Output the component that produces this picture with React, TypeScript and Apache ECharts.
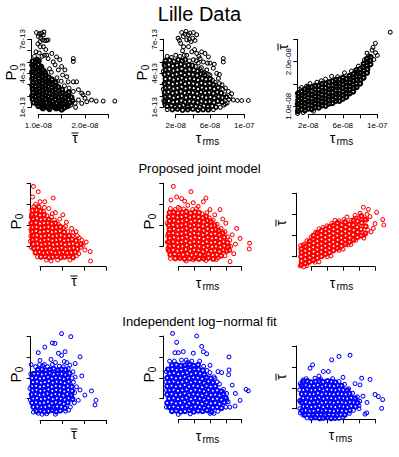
import React, { useEffect, useRef } from "react";
import * as echarts from "echarts";

// Units: tau in ns (1e-9 s), P0 in 1e-13.
// Each panel: a dense "core" cloud and the sparser outer points.
// ---- Row 1: Lille data ----
const lilleTauBarP0Outer: number[][] = [
[9.6,7.6],[10.2,7.5],[10.7,7.55],[11.2,7.65],[10,7.25],[10.5,7.1],[10.9,6.95],[11.4,6.9],[10.4,6.8],[11.1,7.4],[11.8,6.9],[12.1,6.95],[9.9,6.6],[11.1,6.35],[10.4,6.35],[11.6,6.1],[10.8,5.5],[11.3,5.6],[10.2,5.8],[11.8,5.6],[12.9,5.75],[13.9,5.45],[12.1,5.3],[13.2,5.0],[14.6,5.2],[13.6,4.75],[15,4.6],[14.3,4.3],[15.7,4.3],[15.2,3.85],[16.1,3.7],[16.4,3.25],[17.5,3.25],[18.2,3.25],[17.5,5.3],[17.5,5.05],[12.4,4.4],[12.8,4.1],[14,3.6],[14.9,3.3],[15.6,2.9],[16.6,2.7],[17.5,2.4],[18.6,2.55],[19.3,2.25],[19.6,2.1],[20.7,2.25],[20,1.8],[21.4,1.65],[22.4,1.55],[23.9,1.55],[26.4,1.55],[18.6,1.65],[20.4,1.5],[19.3,1.35],[17.9,1.35],[17,1.2],[18,1.0],[9.2,5.5],[9.5,5.9]
];
const lilleTauBarP0Core: number[][] = [
[8.8,5.05],[9.4,4.95],[10.1,5.1],[9.7,5.2],[8.7,4.7],[9.3,4.62],[10,4.78],[10.6,4.58],[8.9,4.41],[9.6,4.33],[10.3,4.47],[11,4.28],[8.7,4.12],[9.3,4.03],[10,4.17],[10.7,3.98],[11.4,4.09],[8.8,3.82],[9.5,3.73],[10.2,3.86],[10.9,3.69],[11.6,3.81],[12.2,3.64],[8.7,3.51],[9.4,3.44],[10.1,3.56],[10.8,3.39],[11.5,3.52],[12.2,3.34],[12.9,3.46],[8.9,3.21],[9.6,3.13],[10.3,3.26],[11,3.08],[11.7,3.22],[12.4,3.14],[13.1,3.04],[13.7,3.19],[8.7,2.92],[9.4,2.84],[10.1,2.96],[10.8,2.79],[11.5,2.91],[12.2,2.83],[12.9,2.74],[13.6,2.89],[14.3,2.78],[8.8,2.61],[9.5,2.53],[10.2,2.66],[10.9,2.49],[11.6,2.62],[12.3,2.54],[13,2.44],[13.7,2.59],[14.4,2.48],[15.1,2.56],[8.9,2.31],[9.6,2.24],[10.3,2.36],[11,2.19],[11.7,2.32],[12.4,2.23],[13.1,2.14],[13.8,2.29],[14.5,2.18],[15.2,2.26],[15.9,2.13],[16.5,2.31],[8.7,2.01],[9.4,1.94],[10.1,2.06],[10.8,1.89],[11.5,2.02],[12.2,1.93],[12.9,1.84],[13.6,1.99],[14.3,1.88],[15,1.96],[15.7,1.83],[16.4,2.01],[17.1,1.88],[8.8,1.71],[9.5,1.64],[10.2,1.76],[10.9,1.59],[11.6,1.72],[12.3,1.63],[13,1.54],[13.7,1.69],[14.4,1.58],[15.1,1.66],[15.8,1.53],[16.5,1.71],[17.3,1.59],[9,1.41],[9.7,1.34],[10.4,1.46],[11.1,1.29],[11.8,1.42],[12.5,1.33],[13.2,1.24],[13.9,1.39],[14.6,1.28],[15.3,1.36],[16,1.23],[16.8,1.41],[10,1.11],[10.7,1.04],[11.4,1.16],[12.1,0.99],[12.8,1.12],[13.5,1.03],[14.2,0.94],[14.9,1.09],[15.6,0.98],[16.3,1.11],[11,0.9],[12.4,0.84],[13.8,0.91],[15,0.8]
];
const lilleTauRmsP0Outer: number[][] = [
[27,7.6],[30.9,7.45],[28.9,7.25],[34.8,7.4],[36.7,7.55],[40.6,7.6],[39.8,7.1],[42.5,6.9],[32.8,6.95],[35.9,7],[24.3,6.9],[25.8,6.65],[44.5,7.4],[37.9,6.8],[22.8,7.1],[29.2,6.35],[35,6.35],[32,7.7],[38.7,5.9],[44.5,5.75],[50.3,5.9],[54.2,5.75],[32.8,5.6],[58.1,5.45],[48.4,5.3],[40.6,5.2],[52.3,5],[60,4.9],[46.4,4.9],[63.9,4.45],[56.2,4.3],[67.8,4],[69.8,3.55],[60,3.85],[75.5,5.3],[75.5,5],[42,6.1],[28,6],[47,5.5],[65,4.8],[71,3.9],[87.2,1.65],[91.9,1.6],[97,1.6],[104.7,1.6],[83.4,1.95],[81.4,2.4],[85.3,2.2],[78,2.7],[74,3],[80,1.4],[76,1.2],[6.5,4.9],[7.5,3],[6.8,2],[7.2,1.3],[50,4.5],[57,4.9],[44,5.1],[53,4.1],
[10,5.5],[15,5.4],[20,5.6],[25,5.5],[30,5.6],[36,5.1],[43,4.6],[48,4.4],[52,4.0],[58,3.9],[63,3.4],[66,3.2],[71,3.1],[75,2.6],[77,2.1],[82,1.7],[78,1.3],[72,1.0],[64,0.8],[10,0.8],[6,1.6],[5.5,2.6],[5.5,4.2]
];
const lilleTauRmsP0Core: number[][] = [
[8,5.1],[13,5.15],[18,5.05],[23,5.2],[27.5,5.1],[31,5.2],[7,4.7],[12,4.76],[16.5,4.64],[21.5,4.71],[26,4.8],[30.5,4.66],[35,4.74],[39.5,4.69],[8,4.3],[12.5,4.36],[17.5,4.24],[22,4.31],[27,4.4],[31.5,4.26],[36,4.34],[41,4.29],[45.5,4.21],[7,3.9],[11.5,3.96],[16.5,3.84],[21,3.91],[26,4],[30.5,3.86],[35.5,3.94],[40,3.89],[45,3.81],[49.5,3.94],[54,3.86],[8,3.5],[13,3.56],[17.5,3.44],[22.5,3.51],[27,3.6],[32,3.46],[36.5,3.54],[41.5,3.49],[46,3.41],[51,3.54],[55.5,3.46],[60,3.51],[7,3.1],[12,3.16],[16.5,3.04],[21.5,3.11],[26,3.2],[31,3.06],[35.5,3.14],[40.5,3.09],[45,3.01],[50,3.14],[54.5,3.06],[59.5,3.11],[64,3.02],[8,2.7],[12.5,2.76],[17.5,2.64],[22,2.71],[27,2.8],[31.5,2.66],[36.5,2.74],[41,2.69],[46,2.61],[50.5,2.74],[55.5,2.66],[60,2.71],[65,2.62],[69.5,2.74],[7,2.3],[11.5,2.36],[16.5,2.24],[21,2.31],[26,2.4],[30.5,2.26],[35.5,2.34],[40,2.29],[45,2.21],[49.5,2.34],[54.5,2.26],[59,2.31],[64,2.22],[68.5,2.34],[73,2.26],[8,1.9],[13,1.96],[17.5,1.84],[22.5,1.91],[27,2],[32,1.86],[36.5,1.94],[41.5,1.89],[46,1.81],[51,1.94],[55.5,1.86],[60.5,1.91],[65,1.82],[70,1.94],[74.5,1.86],[79,1.91],[7.5,1.5],[12,1.56],[17,1.44],[21.5,1.51],[26.5,1.6],[31,1.46],[36,1.54],[40.5,1.49],[45.5,1.41],[50,1.54],[55,1.46],[59.5,1.51],[64.5,1.42],[69,1.54],[74,1.46],[10,1.1],[15,1.16],[19.5,1.04],[24.5,1.11],[29,1.2],[34,1.06],[38.5,1.14],[43.5,1.09],[48,1.01],[53,1.14],[57.5,1.06],[62.5,1.11],[67,1.02],[16,0.8],[22,0.86],[28,0.76],[34,0.81],[40,0.86],[46,0.76],[52,0.81],[58,0.79]
];
const lilleTauRmsTauBarOuter: number[][] = [
[12,14.2],[22,15.1],[30,15.4],[40,16.1],[47,16.7],[62,17.5],[70,17.9],[78,19],[85,20.4],[88.1,21.9],[93.9,22.6],[97.8,24.1],[95,23.2],[98,22],[100,21.4],[115,26.6],[7.5,8.4],[14,8.6],[26,8.9],[10,13.8],[96,20.5],[90,21.3],[18,14.5],[35,15.7],[54,16.6]
];
const lilleTauRmsTauBarCore: number[][] = [
[8,8.9],[8.5,9.7],[7.8,10.5],[8.3,11.3],[8.6,12.1],[8.1,12.9],[12,9.3],[11.6,10.1],[12.3,10.9],[11.8,11.7],[12.2,12.5],[12,13.3],[16,9.1],[16.4,9.9],[15.7,10.7],[16.2,11.5],[15.9,12.3],[16.3,13.1],[16,13.8],[20,9.5],[19.6,10.3],[20.3,11.1],[19.8,11.9],[20.2,12.7],[19.7,13.5],[20.1,14.2],[24,9.4],[24.4,10.2],[23.7,11],[24.2,11.8],[23.9,12.6],[24.3,13.4],[24,14.3],[28,9.8],[27.6,10.6],[28.3,11.4],[27.8,12.2],[28.2,13],[27.7,13.8],[28.1,14.6],[32,9.7],[32.4,10.5],[31.7,11.3],[32.2,12.1],[31.9,12.9],[32.3,13.7],[32,14.6],[36,10.2],[35.6,11],[36.3,11.8],[35.8,12.6],[36.2,13.4],[35.7,14.2],[36.1,15],[40,10.1],[40.4,10.9],[39.7,11.7],[40.2,12.5],[39.9,13.3],[40.3,14.1],[40,15],[44,10.6],[43.6,11.4],[44.3,12.2],[43.8,13],[44.2,13.8],[43.7,14.6],[44.1,15.4],[48,10.7],[48.4,11.5],[47.7,12.3],[48.2,13.1],[47.9,13.9],[48.3,14.7],[48,15.6],[52,11.2],[51.6,12],[52.3,12.8],[51.8,13.6],[52.2,14.4],[51.7,15.2],[52.1,15.9],[56,11.2],[56.4,12],[55.7,12.8],[56.2,13.6],[55.9,14.4],[56.3,15.2],[56,16],[60,11.7],[59.6,12.5],[60.3,13.3],[59.8,14.1],[60.2,14.9],[59.7,15.7],[60.1,16.4],[64,12.1],[64.4,12.9],[63.7,13.7],[64.2,14.5],[63.9,15.3],[64.3,16.1],[68,12.9],[67.6,13.7],[68.3,14.5],[67.8,15.3],[68.2,16.1],[67.7,16.8],[72,13.3],[72.4,14.1],[71.7,14.9],[72.2,15.7],[71.9,16.5],[72.3,17.2],[76,14.3],[75.6,15.1],[76.3,15.9],[75.8,16.7],[76.2,17.5],[75.7,18.1],[80,15.1],[80.4,15.9],[79.7,16.7],[80.2,17.5],[79.9,18.3],[84,16.4],[83.6,17.2],[84.3,18],[83.8,18.8],[84.2,19.5],[88,17.5],[88.4,18.3],[87.7,19.1],[88.2,19.9],[87.9,20.6],[92,19.4],[91.6,20.2],[92.3,21]
];

// ---- Row 2: proposed joint model ----
const jointTauBarP0Core: number[][] = [
[8.3,5.4],[9.2,5.45],[10.1,5.35],[8.2,5.0],[9.1,5.05],[10,4.95],[10.9,5.0],[8.4,4.6],[9.3,4.65],[10.2,4.55],[11.1,4.6],[12,4.55],[8.2,4.2],[9.1,4.25],[10,4.15],[10.9,4.2],[11.8,4.25],[12.7,4.15],[13.5,4.2],[8.3,3.8],[9.2,3.85],[10.1,3.75],[11,3.8],[11.9,3.85],[12.8,3.75],[13.7,3.8],[14.6,3.85],[8.2,3.4],[9.1,3.45],[10,3.35],[10.9,3.4],[11.8,3.45],[12.7,3.35],[13.6,3.4],[14.5,3.45],[15.5,3.35],[8.4,3],[9.3,3.05],[10.2,2.95],[11.1,3],[12,3.05],[12.9,2.95],[13.8,3],[14.7,3.05],[15.6,2.95],[16.6,3],[8.3,2.6],[9.2,2.65],[10.1,2.55],[11,2.6],[11.9,2.65],[12.8,2.55],[13.7,2.6],[14.6,2.65],[15.5,2.55],[16.4,2.6],[17.3,2.65],[18.2,2.55],[8.5,2.2],[9.4,2.25],[10.3,2.15],[11.2,2.2],[12.1,2.25],[13,2.15],[13.9,2.2],[14.8,2.25],[15.7,2.15],[16.6,2.2],[17.5,2.25],[18.4,2.15],[19.3,2.2],[8.6,1.8],[9.5,1.85],[10.4,1.75],[11.3,1.8],[12.2,1.85],[13.1,1.75],[14,1.8],[14.9,1.85],[15.8,1.75],[16.7,1.8],[17.6,1.85],[18.5,1.75],[9,1.4],[9.9,1.45],[10.8,1.35],[11.7,1.4],[12.6,1.45],[13.5,1.35],[14.4,1.4],[15.3,1.45],[16.2,1.35],[17.1,1.4],[18,1.45],[10.2,1],[11.1,1.05],[12,0.95],[12.9,1],[13.8,1.05],[14.7,0.95],[15.6,1],[16.5,1.05],[17.5,0.95]
];
const jointTauBarP0Outer: number[][] = [
[8.5,7.7],[9.6,7.2],[8.3,6.7],[10,6.25],[13,6.6],[11.1,6.25],[9,6],[12,5.6],[13.5,5.2],[14.5,4.6],[16,4.3],[15.2,5],[17.2,3.7],[18.2,3.4],[18.5,3],[19.8,2.1],[20.2,1.65],[21.4,1.5],[21.5,0.6],[19.5,2.6],[17.5,3.3],[16.8,0.7],[12.5,0.6],[11,5.7],[7.9,3],[7.9,4.2],[20.5,2.4],[9.7,5.8],[14,0.7],[12.8,5.1],[15.8,3.9],
[8.6,5.8],[9.8,5.7],[10.8,5.3],[11.6,4.9],[12.6,4.8],[13.3,4.5],[14.2,4.1],[15.3,3.8],[16.3,3.4],[17.4,3.0],[18.9,2.8],[19.2,1.9],[18.8,1.3],[18.3,1.1],[11.5,0.7],[9.4,1.0],[8.0,1.9],[7.8,2.5],[7.9,3.6],[8.0,4.8]
];
const jointTauRmsP0Core: number[][] = [
[9,5.2],[14,5.25],[19.5,5.15],[25,5.2],[30,5.3],[35.5,5.15],[41,5.25],[46,5.2],[8,4.8],[13.5,4.85],[19,4.75],[24,4.8],[29.5,4.9],[35,4.75],[40,4.85],[45.5,4.8],[51,4.7],[55,4.85],[9,4.4],[14.5,4.45],[20,4.35],[25,4.4],[30.5,4.5],[36,4.35],[41,4.45],[46.5,4.4],[52,4.3],[57,4.45],[61,4.35],[8,4],[13.5,4.05],[19,3.95],[24,4],[29.5,4.1],[35,3.95],[40,4.05],[45.5,4],[51,3.9],[56,4.05],[61.5,3.95],[66,4],[9,3.6],[14.5,3.65],[20,3.55],[25,3.6],[30.5,3.7],[36,3.55],[41,3.65],[46.5,3.6],[52,3.5],[57,3.65],[62.5,3.55],[67.5,3.6],[71,3.5],[8,3.2],[13.5,3.25],[19,3.15],[24,3.2],[29.5,3.3],[35,3.15],[40,3.25],[45.5,3.2],[51,3.1],[56,3.25],[61.5,3.15],[66.5,3.2],[72,3.1],[76,3.25],[9,2.8],[14.5,2.85],[20,2.75],[25,2.8],[30.5,2.9],[36,2.75],[41,2.85],[46.5,2.8],[52,2.7],[57,2.85],[62.5,2.75],[67.5,2.8],[73,2.7],[78,2.85],[8,2.4],[13.5,2.45],[19,2.35],[24,2.4],[29.5,2.5],[35,2.35],[40,2.45],[45.5,2.4],[51,2.3],[56,2.45],[61.5,2.35],[66.5,2.4],[72,2.3],[77,2.45],[82,2.35],[9,2],[14.5,2.05],[20,1.95],[25,2],[30.5,2.1],[36,1.95],[41,2.05],[46.5,2],[52,1.9],[57,2.05],[62.5,1.95],[67.5,2],[73,1.9],[78,2.05],[83,1.95],[8,1.6],[13.5,1.65],[19,1.55],[24,1.6],[29.5,1.7],[35,1.55],[40,1.65],[45.5,1.6],[51,1.5],[56,1.65],[61.5,1.55],[66.5,1.6],[72,1.5],[77,1.65],[81,1.55],[10,1.2],[15.5,1.25],[21,1.15],[26,1.2],[31.5,1.3],[37,1.15],[42,1.25],[47.5,1.2],[53,1.1],[58,1.25],[63.5,1.15],[68.5,1.2],[74,1.1],[16,0.85],[22,0.9],[28,0.8],[34,0.85],[40,0.9],[46,0.8],[52,0.85],[58,0.9],[64,0.8]
];
const jointTauRmsP0Outer: number[][] = [
[13.7,7.7],[36,7.2],[17.9,6.7],[24.2,6.55],[28,6.3],[38.9,6.15],[54.9,6.6],[51.6,6.25],[10.7,6.4],[72.6,5.5],[45,5.8],[60,5.5],[66,5],[93.7,3.7],[97.9,2.75],[109.5,1.75],[110,2.3],[84.4,1.65],[85.3,0.55],[88,3.1],[92,2.2],[80,4.2],[76,4.6],[90,1.3],[6.5,3],[6.8,1.8],[30,0.6],[55,0.65],[68,0.75],[32,5.9],[20,5.7],[85,2.6],
[10,5.6],[16,5.5],[22,5.6],[27,5.55],[38,5.5],[43,5.6],[50,5.1],[56,5.2],[59,4.7],[64,4.5],[69,4.1],[74,3.7],[79,3.4],[82,2.9],[86,2.0],[85,1.6],[79,1.1],[70,0.9],[10,0.85],[6,2.4],[6,4.2],[39,0.7]
];
const jointTauRmsTauBarCore: number[][] = [
[8,8.1],[8.4,9],[7.7,10],[8.2,11],[7.9,11.8],[13,8.4],[12.6,9.4],[13.3,10.4],[12.8,11.4],[13.2,12.4],[18,8.8],[18.4,9.8],[17.7,10.8],[18.2,11.8],[17.9,12.8],[18.3,13.6],[23,9.2],[22.6,10.2],[23.3,11.2],[22.8,12.2],[23.2,13.2],[22.7,14.2],[23.1,15],[28,9.7],[28.4,10.7],[27.7,11.7],[28.2,12.7],[27.9,13.7],[28.3,14.7],[28,15.6],[33,10.1],[32.6,11.1],[33.3,12.1],[32.8,13.1],[33.2,14.1],[32.7,15.1],[33.1,16.1],[38,10.6],[38.4,11.6],[37.7,12.6],[38.2,13.6],[37.9,14.6],[38.3,15.6],[38,16.5],[43,11],[42.6,12],[43.3,13],[42.8,14],[43.2,15],[42.7,16],[43.1,17],[48,11.5],[48.4,12.5],[47.7,13.5],[48.2,14.5],[47.9,15.5],[48.3,16.5],[48,17.4],[53,12],[52.6,13],[53.3,14],[52.8,15],[53.2,16],[52.7,17],[53.1,18],[58,12.5],[58.4,13.5],[57.7,14.5],[58.2,15.5],[57.9,16.5],[58.3,17.5],[63,13],[62.6,14],[63.3,15],[62.8,16],[63.2,17],[62.7,18.2],[68,13.5],[68.4,14.5],[67.7,15.5],[68.2,16.5],[67.9,17.6],[73,14],[72.6,15.2],[73.3,16.3],[72.8,17.5],[73.2,18.6],[78,14.6],[78.4,15.8],[77.7,17],[78.2,18.4],[83,15],[82.6,16.5],[83.3,18],[82.8,19.6],[88,15.5],[88.4,17.2],[87.7,18.8]
];
const jointTauRmsTauBarOuter: number[][] = [
[85.4,21.7],[91.7,21.2],[81.3,20.3],[89.6,18.7],[97.9,16.7],[109.6,18.8],[111,17.5],[93.8,19.5],[95,15.9],[100,17.8],[75,19.8],[65,19.4],[50,18.6],[30,16.6],[20,14.6],[12,13],[7,12.6],[6.5,7.8],[15,7.9],[30,8.8],[45,10.2],[60,11.8],[70,12.9],[86,14.4],[102,20.5],
[10,12.8],[15,13.8],[26,15.8],[35,16.9],[40,17.3],[46,17.9],[55,18.5],[61,18.8],[70,18.6],[76,19.1],[80,19.2],[90,20],[91,16.3],[86,15.1],[76,13.9],[66,12.8],[55,11.5],[40,10],[25,8.7],[11,7.6]
];

// ---- Row 3: independent log-normal fit ----
const indepTauBarP0Core: number[][] = [
[9.5,4.8],[10.4,4.85],[11.3,4.75],[12.2,4.8],[13.1,4.9],[14,4.75],[14.9,4.85],[15.8,4.8],[8.6,4.4],[9.5,4.45],[10.4,4.35],[11.3,4.4],[12.2,4.5],[13.1,4.35],[14,4.45],[14.9,4.4],[15.8,4.3],[16.7,4.45],[8.2,4],[9.1,4.05],[10,3.95],[10.9,4],[11.8,4.1],[12.7,3.95],[13.6,4.05],[14.5,4],[15.4,3.9],[16.3,4.05],[8.4,3.6],[9.3,3.65],[10.2,3.55],[11.1,3.6],[12,3.7],[12.9,3.55],[13.8,3.65],[14.7,3.6],[15.6,3.5],[16.5,3.65],[8.2,3.2],[9.1,3.25],[10,3.15],[10.9,3.2],[11.8,3.3],[12.7,3.15],[13.6,3.25],[14.5,3.2],[15.4,3.1],[16.3,3.25],[17.2,3.15],[8.3,2.8],[9.2,2.85],[10.1,2.75],[11,2.8],[11.9,2.9],[12.8,2.75],[13.7,2.85],[14.6,2.8],[15.5,2.7],[16.4,2.85],[17.3,2.75],[8.1,2.4],[9,2.45],[9.9,2.35],[10.8,2.4],[11.7,2.5],[12.6,2.35],[13.5,2.45],[14.4,2.4],[15.3,2.3],[16.2,2.45],[17.1,2.35],[8.4,2],[9.3,2.05],[10.2,1.95],[11.1,2],[12,2.1],[12.9,1.95],[13.8,2.05],[14.7,2],[15.6,1.9],[16.5,2.05],[17.4,1.95],[8.2,1.6],[9.1,1.65],[10,1.55],[10.9,1.6],[11.8,1.7],[12.7,1.55],[13.6,1.65],[14.5,1.6],[15.4,1.5],[16.3,1.65],[8.5,1.2],[9.4,1.25],[10.3,1.15],[11.2,1.2],[12.1,1.3],[13,1.15],[13.9,1.25],[14.8,1.2],[15.7,1.1],[9.2,0.8],[10.1,0.85],[11,0.75],[11.9,0.8],[12.8,0.9],[13.7,0.75],[14.6,0.85]
];
const indepTauBarP0Outer: number[][] = [
[14.9,8.3],[17,8],[13.4,7.35],[12.8,7.4],[11.1,7],[9.6,6.45],[14.2,6.4],[14.9,6.2],[15.7,6.55],[19.1,6.05],[10,5.7],[18,5.4],[16.8,5.25],[12.5,5.8],[13.5,5.5],[11,5.3],[15.5,5.6],[18.3,3.15],[19.1,2.85],[20.2,2.35],[21.7,2.75],[22.7,1.85],[22.5,1.4],[18.7,1.85],[17.2,2.2],[18,4.1],[9.6,0.6],[11.5,0.55],[13.5,0.5],[16.5,0.9],[8,5.3],[17.5,4.6],[19.5,4.2],[8.7,4.45],
[9,5.1],[10.6,5.2],[11.7,5.1],[12.8,5.3],[14.4,5.15],[15.3,5.1],[16.4,4.9],[17.3,4.0],[17.6,3.6],[17.9,2.6],[17.8,1.6],[16.9,1.2],[15.8,0.8],[10.5,0.5],[8.5,0.7],[7.8,1.9],[7.7,3.0],[7.9,4.4],[16.1,5.5],[9.9,5.3]
];
const indepTauRmsP0Core: number[][] = [
[12,5.2],[17.5,5.25],[23,5.15],[28.5,5.2],[34,5.3],[39.5,5.15],[45,5.25],[7,4.8],[12.5,4.85],[18,4.75],[23.5,4.8],[29,4.9],[34.5,4.75],[40,4.85],[45.5,4.8],[51,4.7],[9,4.4],[14.5,4.45],[20,4.35],[25.5,4.4],[31,4.5],[36.5,4.35],[42,4.45],[47.5,4.4],[53,4.3],[6,4],[11.5,4.05],[17,3.95],[22.5,4],[28,4.1],[33.5,3.95],[39,4.05],[44.5,4],[50,3.9],[55.5,4.05],[61,3.95],[8.5,3.6],[14,3.65],[19.5,3.55],[25,3.6],[30.5,3.7],[36,3.55],[41.5,3.65],[47,3.6],[52.5,3.5],[58,3.65],[63.5,3.55],[6,3.2],[11.5,3.25],[17,3.15],[22.5,3.2],[28,3.3],[33.5,3.15],[39,3.25],[44.5,3.2],[50,3.1],[55.5,3.25],[61,3.15],[66.5,3.2],[8.5,2.8],[14,2.85],[19.5,2.75],[25,2.8],[30.5,2.9],[36,2.75],[41.5,2.85],[47,2.8],[52.5,2.7],[58,2.85],[63.5,2.75],[69,2.8],[74.5,2.7],[6,2.4],[11.5,2.45],[17,2.35],[22.5,2.4],[28,2.5],[33.5,2.35],[39,2.45],[44.5,2.4],[50,2.3],[55.5,2.45],[61,2.35],[66.5,2.4],[72,2.3],[77,2.45],[8.5,2],[14,2.05],[19.5,1.95],[25,2],[30.5,2.1],[36,1.95],[41.5,2.05],[47,2],[52.5,1.9],[58,2.05],[63.5,1.95],[69,2],[74.5,1.9],[80,2.05],[6,1.6],[11.5,1.65],[17,1.55],[22.5,1.6],[28,1.7],[33.5,1.55],[39,1.65],[44.5,1.6],[50,1.5],[55.5,1.65],[61,1.55],[66.5,1.6],[72,1.5],[78,1.65],[8.5,1.2],[14,1.25],[19.5,1.15],[25,1.2],[30.5,1.3],[36,1.15],[41.5,1.25],[47,1.2],[52.5,1.1],[58,1.25],[63.5,1.15],[69,1.2],[74.5,1.1],[12,0.8],[17.5,0.85],[23,0.75],[28.5,0.8],[34,0.9],[39.5,0.75],[45,0.85],[50.5,0.8],[56,0.9],[62,0.75]
];
const indepTauRmsP0Outer: number[][] = [
[12.8,8.25],[43.2,8],[17.9,7.4],[15.8,6.4],[20,6.4],[26.3,6.5],[38.9,6.35],[49.5,7],[51.6,6.5],[55.8,6.3],[84,6],[84,4.75],[83.5,4.3],[74.7,4.5],[66.3,3.95],[105.5,2.9],[108.4,2.75],[97.9,1.85],[91.6,1.3],[81,1.85],[30,5.7],[60,5.2],[70,4.6],[88,3.3],[92,2.5],[5,2.8],[85,1.2],[35,0.55],[60,0.6],
[9,5.6],[15,5.6],[24,5.7],[32,5.5],[37,5.6],[47,5.6],[52,5.1],[56,4.7],[60,4.5],[65,4.1],[69,3.6],[72,3.4],[77,2.9],[81,2.5],[83,1.7],[80,1.2],[70,0.8],[65,0.6],[5,1.2],[4.5,3.6],[5,4.6],[20,0.5]
];
const indepTauRmsTauBarCore: number[][] = [
[10,16.5],[15.5,16.6],[20.2,16.3],[25.8,16.5],[30.4,16.7],[35.1,16.4],[40.7,16.6],[45.3,16.5],[50.6,16.3],[8.2,15.5],[13.4,15.6],[18.1,15.4],[23.6,15.5],[28.3,15.7],[33.8,15.3],[38.2,15.6],[43.5,15.5],[48.9,15.4],[53.3,15.6],[58.1,15.5],[10.6,14.5],[15.2,14.6],[20.7,14.4],[25.1,14.5],[30.9,14.7],[35.4,14.4],[40.2,14.6],[45.8,14.5],[50.3,14.4],[55.6,14.6],[60.2,14.5],[65.4,14.4],[8.4,13.5],[13.1,13.6],[18.7,13.4],[23.2,13.5],[28.6,13.7],[33.3,13.4],[38.9,13.6],[43.2,13.5],[48.4,13.4],[53.8,13.6],[58.3,13.5],[63.7,13.4],[68.1,13.6],[10.3,12.5],[15.8,12.6],[20.1,12.4],[25.6,12.5],[30.2,12.7],[35.7,12.4],[40.1,12.6],[45.4,12.5],[50.9,12.4],[55.2,12.6],[60.6,12.5],[65.1,12.4],[70.5,12.6],[75.2,12.5],[8.1,11.5],[13.6,11.6],[18.2,11.4],[23.9,11.5],[28.1,11.7],[33.5,11.4],[38.4,11.6],[43.9,11.5],[48.2,11.4],[53.5,11.6],[58.8,11.5],[63.2,11.4],[68.6,11.6],[73.1,11.5],[78.3,11.4],[10.8,10.5],[15.1,10.6],[20.5,10.4],[25.3,10.5],[30.6,10.7],[35.2,10.4],[40.8,10.6],[45.1,10.5],[50.4,10.4],[55.9,10.6],[60.1,10.5],[65.7,10.4],[70.2,10.6],[75.6,10.5],[8.6,9.5],[13.2,9.6],[18.5,9.4],[23.1,9.5],[28.8,9.7],[33.1,9.4],[38.6,9.6],[43.4,9.5],[48.7,9.4],[53.1,9.6],[58.5,9.5],[63.9,9.4],[68.4,9.6],[12.3,8.5],[17.6,8.6],[22.2,8.4],[27.7,8.5],[32.1,8.7],[37.5,8.4],[42.3,8.6],[47.8,8.5],[52.2,8.4],[57.4,8.6],[62.1,8.5],[20.4,7.8],[25.2,7.9],[30.7,7.7],[35.3,7.8],[40.6,7.9],[45.2,7.7],[50.1,7.8]
];
const indepTauRmsTauBarOuter: number[][] = [
[45.8,21.7],[55,22.5],[68.8,22.8],[18.8,19.7],[22,20.5],[35.4,18.9],[41.7,18.9],[93.8,17],[83.3,17.3],[81.3,15.7],[100,13.4],[104.2,12.9],[109.6,12.2],[108.3,10.1],[89.6,9],[87.5,8.7],[10.4,16.9],[10.4,15.3],[30,17.8],[60,17.5],[75,16],[85,13],[90,11.5],[80,10],[6,12],[6.5,9],
[14,17.2],[25,17.3],[32,17.1],[47,17.2],[55,16.5],[62,15.8],[67,14.8],[72,13.7],[78,12.8],[81,11.8],[80,10.7],[73,9.6],[68,8.9],[60,8.0],[55,7.7],[15,7.8],[10,8.5],[6,10],[6,11.8],[5.8,14.5],[6.5,16]
];

// ---- Tick values and the labels printed on some of them ----
const tauBarTicks = [10, 15, 20, 25];
const tauBarTickLabels: Record<string, string> = { "10": "1.0e-08", "20": "2.0e-08" };
const tauRmsTicks = [20, 40, 60, 80, 100];
const tauRmsTickLabels: Record<string, string> = { "20": "2e-08", "60": "6e-08", "100": "1e-07" };
const lilleP0Ticks = [1, 2, 3, 4, 5, 6, 7];
const lilleP0TickLabels: Record<string, string> = { "1": "1e-13", "4": "4e-13", "7": "7e-13" };
const modelP0Ticks = [2, 4, 6, 8];

const rowTitles = ["Lille Data", "Proposed joint model", "Independent log\u2212normal fit"];
const rowColors = ["#000000", "#ff0000", "#0000ff"];

const FONT = "Liberation Sans, Arial, Helvetica, sans-serif";

type AxisSpec = { ticks: number[]; labels?: Record<string, string> };
type PanelSpec = {
  core: number[][];
  outer: number[][];
  row: number;
  coreW: number;
  left: number; top: number; width: number; height: number;
  xOff: number; yOff: number;
  x: AxisSpec; y: AxisSpec;
};

const panels: PanelSpec[] = [
  { core: lilleTauBarP0Core, outer: lilleTauBarP0Outer, row: 0, coreW: 2.2, left: 38.3, top: 39.3, width: 70, height: 68, xOff: 7, yOff: 7, x: { ticks: tauBarTicks, labels: tauBarTickLabels }, y: { ticks: lilleP0Ticks, labels: lilleP0TickLabels } },
  { core: lilleTauRmsP0Core, outer: lilleTauRmsP0Outer, row: 0, coreW: 1.8, left: 175.7, top: 39.3, width: 68.6, height: 68, xOff: 7, yOff: 12, x: { ticks: tauRmsTicks, labels: tauRmsTickLabels }, y: { ticks: lilleP0Ticks, labels: lilleP0TickLabels } },
  { core: lilleTauRmsTauBarCore, outer: lilleTauRmsTauBarOuter, row: 0, coreW: 2.2, left: 308.3, top: 39.3, width: 69, height: 67, xOff: 8, yOff: 11, x: { ticks: tauRmsTicks, labels: tauRmsTickLabels }, y: { ticks: tauBarTicks, labels: tauBarTickLabels } },
  { core: jointTauBarP0Core, outer: jointTauBarP0Outer, row: 1, coreW: 2, left: 40, top: 183.3, width: 66, height: 63, xOff: 20.4, yOff: 9.3, x: { ticks: tauBarTicks }, y: { ticks: modelP0Ticks } },
  { core: jointTauRmsP0Core, outer: jointTauRmsP0Outer, row: 1, coreW: 2, left: 178.3, top: 183.3, width: 63.4, height: 63, xOff: 20.4, yOff: 15, x: { ticks: tauRmsTicks }, y: { ticks: modelP0Ticks } },
  { core: jointTauRmsTauBarCore, outer: jointTauRmsTauBarOuter, row: 1, coreW: 2, left: 311, top: 193.3, width: 64, height: 63.4, xOff: 10, yOff: 15, x: { ticks: tauRmsTicks }, y: { ticks: tauBarTicks } },
  { core: indepTauBarP0Core, outer: indepTauBarP0Outer, row: 2, coreW: 2, left: 40, top: 336.7, width: 66, height: 62, xOff: 21.3, yOff: 9.3, x: { ticks: tauBarTicks }, y: { ticks: modelP0Ticks } },
  { core: indepTauRmsP0Core, outer: indepTauRmsP0Outer, row: 2, coreW: 2, left: 178.3, top: 336, width: 63.4, height: 62.7, xOff: 20.6, yOff: 15, x: { ticks: tauRmsTicks }, y: { ticks: modelP0Ticks } },
  { core: indepTauRmsTauBarCore, outer: indepTauRmsTauBarOuter, row: 2, coreW: 2, left: 311, top: 346, width: 64, height: 62.7, xOff: 10.6, yOff: 15, x: { ticks: tauRmsTicks }, y: { ticks: tauBarTicks } },
];

function axisOf(spec: AxisSpec, i: number, offset: number, isY: boolean) {
  const t = spec.ticks;
  return {
    type: "value",
    gridIndex: i,
    min: t[0],
    max: t[t.length - 1],
    interval: t[1] - t[0],
    offset,
    axisLine: { show: true, onZero: false, lineStyle: { color: "#000", width: 1 } },
    axisTick: { show: true, length: 4, lineStyle: { color: "#000", width: 1 } },
    axisLabel: {
      show: !!spec.labels,
      interval: 0,
      showMinLabel: true,
      showMaxLabel: true,
      rotate: isY ? 90 : 0,
      margin: isY ? 5 : 7,
      fontSize: 8,
      fontFamily: FONT,
      color: "#000",
      formatter: (v: number) => (spec.labels ? spec.labels[String(v)] ?? "" : ""),
    },
    splitLine: { show: false },
  };
}

function txt(text: string, x: number, y: number, size: number, align = "center") {
  return {
    type: "text",
    style: {
      text, x, y, fill: "#000",
      font: `${size}px ${FONT}`,
      fontSize: size, fontFamily: FONT,
      textAlign: align, align,
      textVerticalAlign: "middle", verticalAlign: "middle",
    },
  };
}

function tauBarLabel(x: number, y: number, rotated: boolean) {
  return {
    type: "group", x, y, rotation: rotated ? Math.PI / 2 : 0,
    children: [
      txt("\u03c4", 0, 0, 14),
      { type: "line", shape: { x1: -3.5, y1: -5, x2: 3.5, y2: -5 }, style: { stroke: "#000", lineWidth: 1 } },
    ],
  };
}
function tauRmsLabel(x: number, y: number) {
  return {
    type: "group", x, y,
    children: [txt("\u03c4", -8.5, 0, 14), txt("rms", -4.5, 3, 10, "left")],
  };
}
function p0Label(x: number, y: number) {
  return {
    type: "group", x, y, rotation: Math.PI / 2,
    children: [txt("P", -2.5, 0, 15), txt("0", 5.5, 4, 10)],
  };
}

export default function App() {
  const ref = useRef<HTMLDivElement>(null);
  useEffect(() => {
    if (!ref.current) return;
    const chart = echarts.init(ref.current, null, { renderer: "svg" });
    const series: any[] = [];
    panels.forEach((p, i) => {
      const color = rowColors[p.row];
      series.push({
        type: "scatter", xAxisIndex: i, yAxisIndex: i, data: p.core,
        symbol: "circle", symbolSize: 4, clip: false, silent: true,
        itemStyle: { color: "rgba(0,0,0,0)", borderColor: color, borderWidth: p.coreW, opacity: 1 },
      });
      series.push({
        type: "scatter", xAxisIndex: i, yAxisIndex: i, data: p.outer,
        symbol: "circle", symbolSize: 3.9, clip: false, silent: true,
        itemStyle: { color: "rgba(0,0,0,0)", borderColor: color, borderWidth: 1, opacity: 1 },
      });
    });
    const option = {
      animation: false,
      backgroundColor: "#ffffff",
      grid: panels.map((p) => ({ left: p.left, top: p.top, width: p.width, height: p.height, containLabel: false })),
      xAxis: panels.map((p, i) => axisOf(p.x, i, p.xOff, false)),
      yAxis: panels.map((p, i) => axisOf(p.y, i, p.yOff, true)),
      series,
      graphic: [
        txt(rowTitles[0], 199.5, 14, 20),
        txt(rowTitles[1], 199.5, 168, 13),
        txt(rowTitles[2], 199.5, 321, 13),
        p0Label(10, 73), tauBarLabel(75, 138, false),
        p0Label(141, 73), tauRmsLabel(207, 138),
        tauBarLabel(283, 47, true), tauRmsLabel(341, 138),
        p0Label(15, 222), tauBarLabel(74, 281, false),
        p0Label(148, 222), tauRmsLabel(207, 283),
        tauBarLabel(281, 223, true), tauRmsLabel(341, 283),
        p0Label(15, 375), tauBarLabel(74, 434, false),
        p0Label(148, 375), tauRmsLabel(207, 436),
        tauBarLabel(281, 377, true), tauRmsLabel(340, 435),
      ],
    };
    chart.setOption(option as any);
    return () => chart.dispose();
  }, []);
  return (
    <div
      ref={ref}
      style={{ position: "absolute", left: 0, top: 0, width: 399, height: 457, background: "#fff" }}
    />
  );
}
